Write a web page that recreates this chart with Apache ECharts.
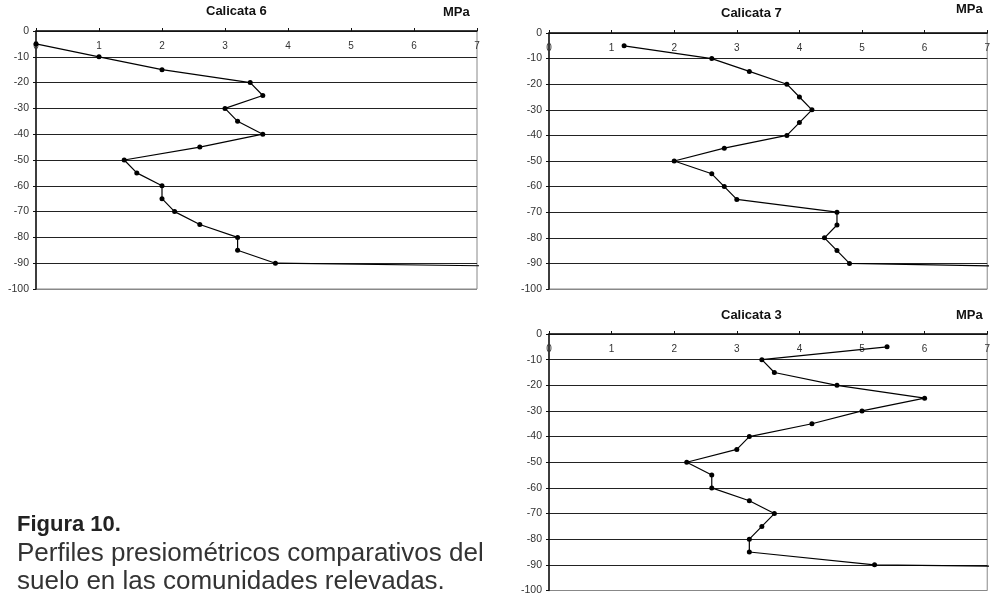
<!DOCTYPE html>
<html>
<head>
<meta charset="utf-8">
<script src="https://cdn.jsdelivr.net/npm/echarts@6/dist/echarts.min.js"></script>
<style>
html,body{margin:0;padding:0;background:#fff;}
#chart{width:993px;height:596px;}
</style>
</head>
<body>
<div id="chart"></div>
<script>
// Depth (cm, negative downward)
const depths = [-5,-10,-15,-20,-25,-30,-35,-40,-45,-50,-55,-60,-65,-70,-75,-80,-85,-90];
// Pressure values (MPa) per depth
const cal6 = [0,1,2,3.4,3.6,3.0,3.2,3.6,2.6,1.4,1.6,2.0,2.0,2.2,2.6,3.2,3.2,3.8];
const cal7 = [1.2,2.6,3.2,3.8,4.0,4.2,4.0,3.8,2.8,2.0,2.6,2.8,3.0,4.6,4.6,4.4,4.6,4.8];
const cal3 = [5.4,3.4,3.6,4.6,6.0,5.0,4.2,3.2,3.0,2.2,2.6,2.6,3.2,3.6,3.4,3.2,3.2,5.2];
// Trailing segment end (line runs off the right edge)
const tail6 = [7.04,-91];
const tail7 = [7.04,-91];
const tail3 = [7.04,-90.5];
const titles = ['Calicata 6','Calicata 7','Calicata 3'];
const unitLabel = 'MPa';
const captionTitle = 'Figura 10.';
const captionLines = ['Perfiles presiométricos comparativos del','suelo en las comunidades relevadas.'];

const FONT = '"Liberation Sans", Arial, sans-serif';
const grids = [
  {left:36, top:31, width:441, height:258},
  {left:549, top:33, width:442, height:256},
  {left:549, top:334, width:439, height:259}
];
const splitColors = ['#888','#222','#222','#222','#222','#222','#222','#222','#222','#222','#222'];

function buildData(vals, tail){
  const d = vals.map((v,i)=>[v, depths[i]]);
  d.push({value: tail, symbol:'none'});
  return d;
}

const chart = echarts.init(document.getElementById('chart'), null, {renderer:'canvas'});
const option = {
  animation:false,
  backgroundColor:'#fff',
  textStyle:{fontFamily:FONT},
  grid: grids.map(g=>Object.assign({show:true, borderColor:'#888', borderWidth:1, backgroundColor:'transparent', containLabel:false}, g)),
  xAxis: grids.map((g,i)=>({
    gridIndex:i, type:'value', position:'top', min:0, max:7, interval:1,
    axisLine:{show:true, onZero:false, lineStyle:{color:'#111', width:1.5}},
    axisTick:{show:true, inside:false, length:3, lineStyle:{color:'#111'}},
    axisLabel:{inside:true, margin:10, fontSize:10, color:'#333', fontFamily:FONT},
    splitLine:{show:false}
  })),
  yAxis: grids.map((g,i)=>({
    gridIndex:i, type:'value', min:-100, max:0, interval:10,
    axisLine:{show:true, onZero:false, lineStyle:{color:'#111', width:1.5}},
    axisTick:{show:true, length:3, lineStyle:{color:'#111'}},
    axisLabel:{margin:7, fontSize:10.5, color:'#333', fontFamily:FONT},
    splitLine:{show:true, lineStyle:{color:splitColors, width:1}}
  })),
  series: [[cal6,tail6],[cal7,tail7],[cal3,tail3]].map((p,i)=>({
    type:'line', xAxisIndex:i, yAxisIndex:i, clip:false,
    data: buildData(p[0], p[1]),
    symbol:'circle', symbolSize:5, showAllSymbol:true,
    lineStyle:{color:'#000', width:1.2},
    itemStyle:{color:'#000'},
    z:5
  })),
  graphic: [
    {type:'text', left:206, top:5, style:{text:titles[0], font:'bold 13px '+FONT, fill:'#111'}},
    {type:'text', left:443, top:6, style:{text:unitLabel, font:'bold 13px '+FONT, fill:'#111'}},
    {type:'text', left:721, top:7, style:{text:titles[1], font:'bold 13px '+FONT, fill:'#111'}},
    {type:'text', left:956, top:3, style:{text:unitLabel, font:'bold 13px '+FONT, fill:'#111'}},
    {type:'text', left:721, top:309, style:{text:titles[2], font:'bold 13px '+FONT, fill:'#111'}},
    {type:'text', left:956, top:309, style:{text:unitLabel, font:'bold 13px '+FONT, fill:'#111'}},
    {type:'text', left:17, top:514, style:{text:captionTitle, font:'bold 22px '+FONT, fill:'#222'}},
    {type:'text', left:17, top:541, style:{text:captionLines[0], font:'26px '+FONT, fill:'#333'}},
    {type:'text', left:17, top:569, style:{text:captionLines[1], font:'26px '+FONT, fill:'#333'}}
  ]
};
chart.setOption(option);
</script>
</body>
</html>
